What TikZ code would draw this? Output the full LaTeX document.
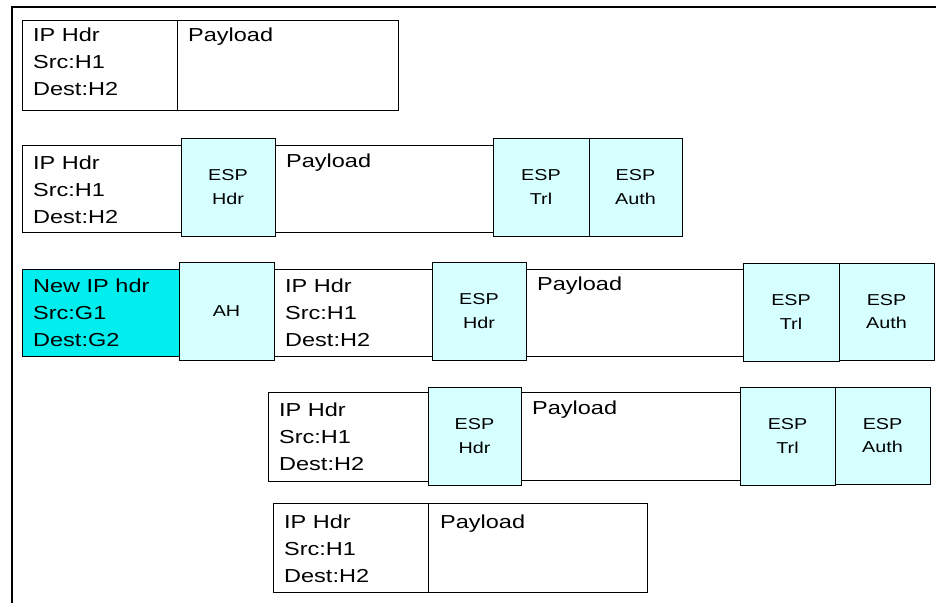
\documentclass[tikz,border=0pt]{standalone}
\usepackage{fontspec}
\setmainfont{Liberation Sans}[FakeStretch=1.25]
\definecolor{espcyan}{RGB}{214,255,255}
\definecolor{newcyan}{RGB}{0,238,238}
\tikzset{
  pkt/.style={draw=black, line width=1pt, fill=white, inner sep=0pt, outer sep=0pt, anchor=north west},
  esp/.style={pkt, fill=espcyan},
  newhdr/.style={pkt, fill=newcyan},
  bigtxt/.style={font=\fontsize{18.8}{27}\selectfont, align=left, anchor=north west, inner sep=0pt},
  smalltxt/.style={font=\fontsize{15.8}{23.5}\selectfont, align=center, inner sep=0pt},
  frameline/.style={line width=1.2pt, draw=black}
}
\newcommand{\pkt}[6]{\node[#2, minimum width=#5pt, minimum height=#6pt] (#1) at (#3,#4) {};}
\begin{document}
\begin{tikzpicture}[x=1pt,y=-1pt]
\useasboundingbox (0,0) rectangle (936,603);
% frame
\coordinate (fbl) at (12,603);
\coordinate (ftl) at (12,7);
\coordinate (ftr) at (936,7);
\draw[frameline] (fbl) -- (ftl) -- (ftr);

% Row 1
\pkt{ip1}{pkt}{22}{20}{155}{90}
\pkt{pl1}{pkt}{177}{20}{221}{90}
\node[bigtxt] (ip1t) at ([xshift=11pt,yshift=-8pt]ip1.north west) {IP Hdr\\Src:H1\\Dest:H2};
\node[bigtxt] (pl1t) at ([xshift=11pt,yshift=-8pt]pl1.north west) {Payload};

% Row 2
\pkt{ip2}{pkt}{22}{145}{160}{87}
\pkt{pl2}{pkt}{275}{145}{218}{87}
\pkt{eh2}{esp}{181}{138}{94}{98}
\pkt{et2}{esp}{493}{138}{96}{98}
\pkt{ea2}{esp}{589}{138}{93}{98}
\node[bigtxt] (ip2t) at ([xshift=11pt,yshift=-11pt]ip2.north west) {IP Hdr\\Src:H1\\Dest:H2};
\node[bigtxt] (pl2t) at ([xshift=11pt,yshift=-9pt]pl2.north west) {Payload};
\node[smalltxt] (eh2t) at (eh2.center) {ESP\\Hdr};
\node[smalltxt] (et2t) at (et2.center) {ESP\\Trl};
\node[smalltxt] (ea2t) at (ea2.center) {ESP\\Auth};

% Row 3
\pkt{nh3}{newhdr}{22}{269}{158}{87}
\pkt{ip3}{pkt}{274}{269}{158}{87}
\pkt{pl3}{pkt}{526}{269}{218}{87}
\pkt{ah3}{esp}{179}{262}{95}{98}
\pkt{eh3}{esp}{432}{262}{94}{98}
\pkt{et3}{esp}{743}{263}{96}{98}
\pkt{ea3}{esp}{839}{263}{95}{97}
\node[bigtxt] (nh3t) at ([xshift=11pt,yshift=-10pt]nh3.north west) {New IP hdr\\Src:G1\\Dest:G2};
\node[bigtxt] (ip3t) at ([xshift=11pt,yshift=-10pt]ip3.north west) {IP Hdr\\Src:H1\\Dest:H2};
\node[bigtxt] (pl3t) at ([xshift=11pt,yshift=-8pt]pl3.north west) {Payload};
\node[smalltxt] (ah3t) at (ah3.center) {AH};
\node[smalltxt] (eh3t) at (eh3.center) {ESP\\Hdr};
\node[smalltxt] (et3t) at (et3.center) {ESP\\Trl};
\node[smalltxt] (ea3t) at (ea3.center) {ESP\\Auth};

% Row 4
\pkt{ip4}{pkt}{268}{392}{160}{89}
\pkt{pl4}{pkt}{521}{392}{219}{88}
\pkt{eh4}{esp}{428}{387}{93}{98}
\pkt{et4}{esp}{740}{387}{95}{98}
\pkt{ea4}{esp}{835}{387}{95}{97}
\node[bigtxt] (ip4t) at ([xshift=11pt,yshift=-11pt]ip4.north west) {IP Hdr\\Src:H1\\Dest:H2};
\node[bigtxt] (pl4t) at ([xshift=11pt,yshift=-9pt]pl4.north west) {Payload};
\node[smalltxt] (eh4t) at (eh4.center) {ESP\\Hdr};
\node[smalltxt] (et4t) at (et4.center) {ESP\\Trl};
\node[smalltxt] (ea4t) at (ea4.center) {ESP\\Auth};

% Row 5
\pkt{ip5}{pkt}{273}{503}{155}{89}
\pkt{pl5}{pkt}{428}{503}{219}{89}
\node[bigtxt] (ip5t) at ([xshift=11pt,yshift=-12pt]ip5.north west) {IP Hdr\\Src:H1\\Dest:H2};
\node[bigtxt] (pl5t) at ([xshift=12pt,yshift=-12pt]pl5.north west) {Payload};
\end{tikzpicture}
\end{document}
